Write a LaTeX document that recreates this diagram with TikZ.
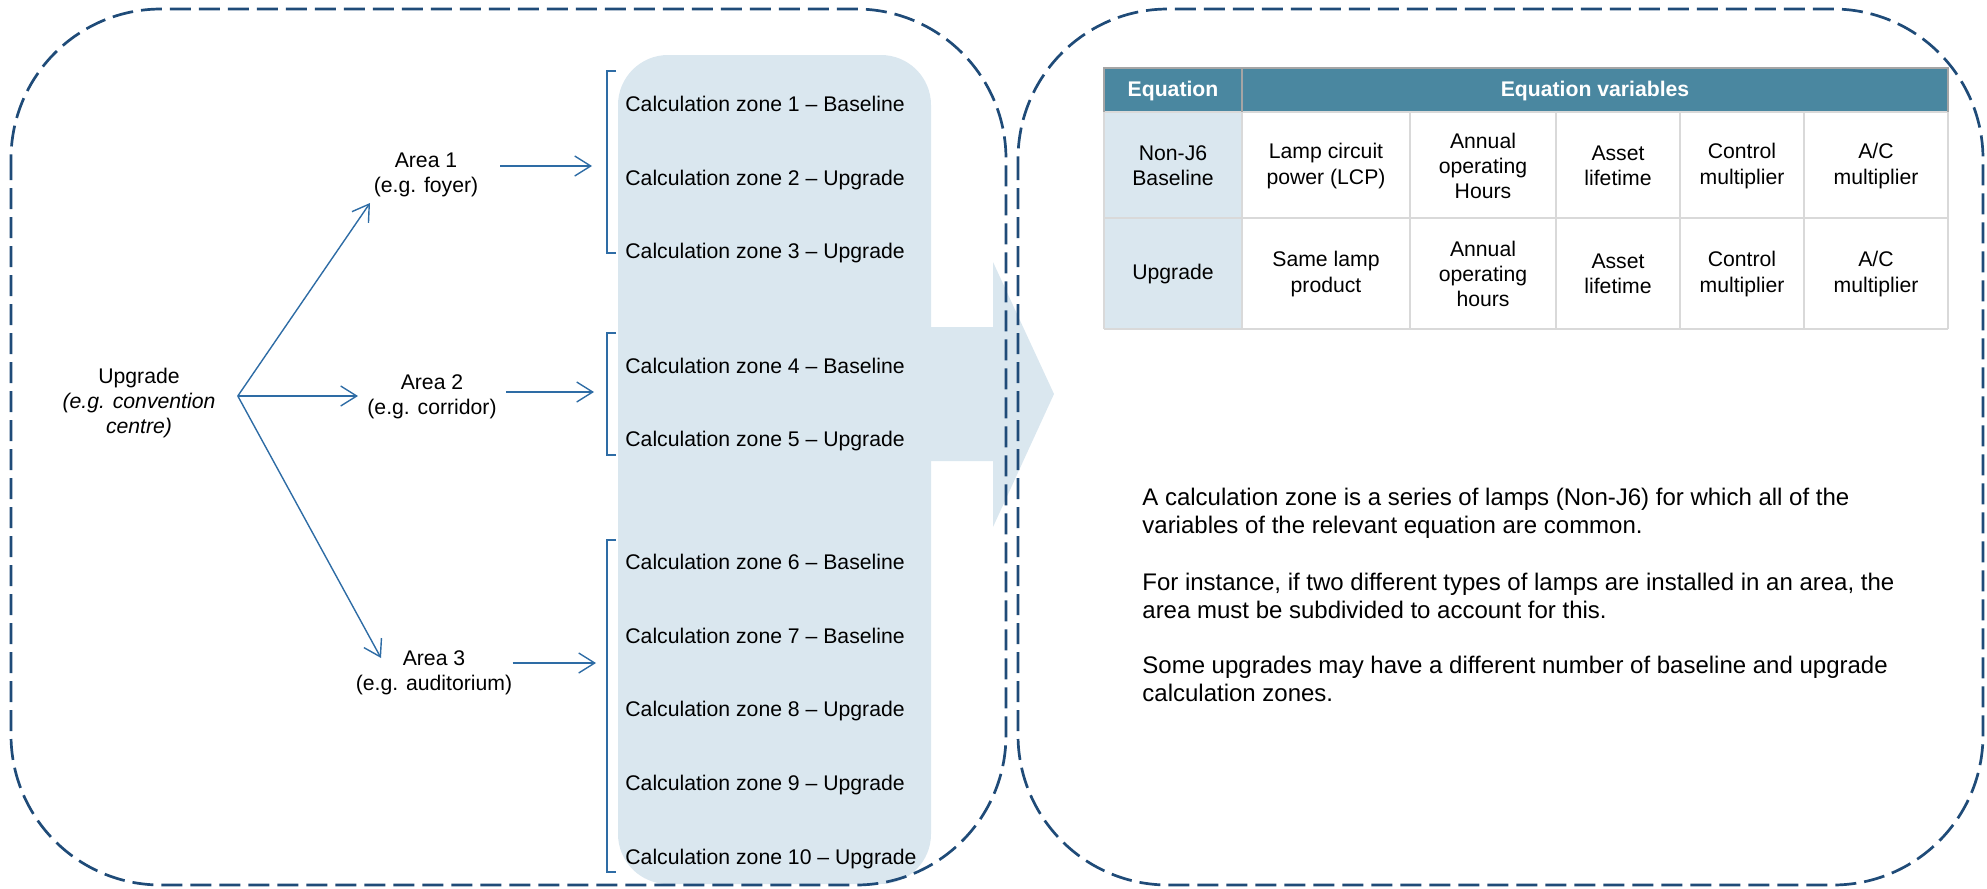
\documentclass[tikz,border=0pt]{standalone}
\usepackage{fontspec}
\setmainfont{Liberation Sans}
\usepackage{tikz}
\usetikzlibrary{arrows.meta, calc, positioning}

\definecolor{navy}{RGB}{31,75,120}
\definecolor{linkblue}{RGB}{46,108,165}
\definecolor{pale}{RGB}{218,231,239}
\definecolor{hdrteal}{RGB}{74,135,160}
\definecolor{gridgray}{RGB}{217,217,217}
\definecolor{edgegray}{RGB}{165,165,165}

\begin{document}
\begin{tikzpicture}[x=0.5pt, y=-0.5pt, >={Straight Barb[length=8pt, width=10pt]}]
	\tikzstyle{txt} = [font=\fontsize{10.6}{12.6}\selectfont, inner sep=0pt]
	\tikzstyle{area} = [txt, align=center, minimum width=74pt]
	\tikzstyle{zone} = [txt, anchor=west, text height=0.75em, text depth=0.22em]
	\tikzstyle{cell} = [txt, align=center]
	\tikzstyle{head} = [cell, white, font=\fontsize{10.6}{12.6}\selectfont\bfseries]
	\tikzstyle{para} = [anchor=west, align=left, inner sep=0pt, font=\fontsize{12}{14}\selectfont]
	\tikzstyle{link} = [->, linkblue, line width=0.7pt]
	\tikzstyle{brk} = [linkblue, line width=0.75pt]
	\tikzstyle{frame} = [navy, line width=1.35pt, dash pattern=on 10.5pt off 4pt, rounded corners=75pt]
	\tikzstyle{gridline} = [gridgray, line width=1.3pt]
	\tikzstyle{hdrline} = [edgegray, line width=1pt]

	\useasboundingbox (0,0) rectangle (1987,889);

	% zone panel and big arrow
	\fill[pale, rounded corners=25pt] (618,55) rectangle (931,884);
	\fill[pale] (930,327) -- (993,327) -- (993,262) -- (1054,394)
		-- (993,527) -- (993,461) -- (930,461) -- cycle;

	% dashed frames
	\draw[frame] (11,9) rectangle (1006,885);
	\draw[frame] (1018,9) rectangle (1983,885);

	% upgrade and areas
	\node[txt, align=center, inner xsep=11pt] (up) at (139,403)
		{Upgrade\\\textit{(e.g. convention}\\\textit{centre)}};
	\node[area] (a1) at (426,175) {Area 1\\(e.g. foyer)};
	\node[area] (a2) at (432,397) {Area 2\\(e.g. corridor)};
	\node[area] (a3) at (434,673) {Area 3\\(e.g. auditorium)};

	\coordinate (t1) at (370,203);
	\coordinate (t2) at (358,396);
	\coordinate (t3) at (381,658);
	\foreach \t in {t1,t2,t3}
		\draw[link] ([yshift=3.5pt]up.east) -- (\t);

	% calculation zones
	\foreach \n/\y/\k in {1/106/Baseline, 2/180/Upgrade, 3/253/Upgrade,
			4/368/Baseline, 5/441/Upgrade, 6/564/Baseline, 7/638/Baseline,
			8/711/Upgrade, 9/785/Upgrade, 10/859/Upgrade}
		\node[zone] (z\n) at (625,\y) {Calculation zone \n{} – \k};

	\draw[brk] (616,71) -| (607,253) -- (616,253);
	\draw[brk] (616,333) -| (607,455) -- (616,455);
	\draw[brk] (616,540) -| (607,872) -- (616,872);

	\coordinate (k1) at (592,166);
	\coordinate (k2) at (594,392);
	\coordinate (k3) at (596,663);
	\draw[link] (a1.east |- k1) -- (k1);
	\draw[link] (a2.east |- k2) -- (k2);
	\draw[link] (a3.east |- k3) -- (k3);

	% equation table
	\fill[hdrteal] (1104,68) rectangle (1948,112);
	\fill[pale] (1104,112) rectangle (1242,329);
	\foreach \y in {112,218,329}
		\draw[gridline] (1104,\y) -- (1948,\y);
	\foreach \x in {1104,1242,1410,1556,1680,1804,1948}
		\draw[gridline] (\x,112) -- (\x,329);
	\draw[hdrline] (1104,112) -- (1104,68) -- (1948,68) -- (1948,112);
	\draw[hdrline] (1242,68) -- (1242,112);

	\node[head] (eq) at (1173,91) {Equation};
	\node[head] (vars) at (1595,91) {Equation variables};
	\foreach \x/\t [count=\i] in {1173/{Non-J6\\Baseline}, 1326/{Lamp circuit\\power (LCP)},
			1483/{Annual\\operating\\Hours}, 1618/{Asset\\lifetime},
			1742/{Control\\multiplier}, 1876/{A/C\\multiplier}}
		\node[cell] (r1c\i) at (\x,166) {\t};
	\foreach \x/\t [count=\i] in {1173/{Upgrade}, 1326/{Same lamp\\product},
			1483/{Annual\\operating\\hours}, 1618/{Asset\\lifetime},
			1742/{Control\\multiplier}, 1876/{A/C\\multiplier}}
		\node[cell] (r2c\i) at (\x,274) {\t};

	% notes
	\node[para] (p1) at (1142,513) {A calculation zone is a series of lamps (Non-J6) for which all of the\\variables of the relevant equation are common.};
	\node[para] (p2) at (1142,596) {For instance, if two different types of lamps are installed in an area, the\\area must be subdivided to account for this.};
	\node[para] (p3) at (1142,679) {Some upgrades may have a different number of baseline and upgrade\\calculation zones.};
\end{tikzpicture}
\end{document}
